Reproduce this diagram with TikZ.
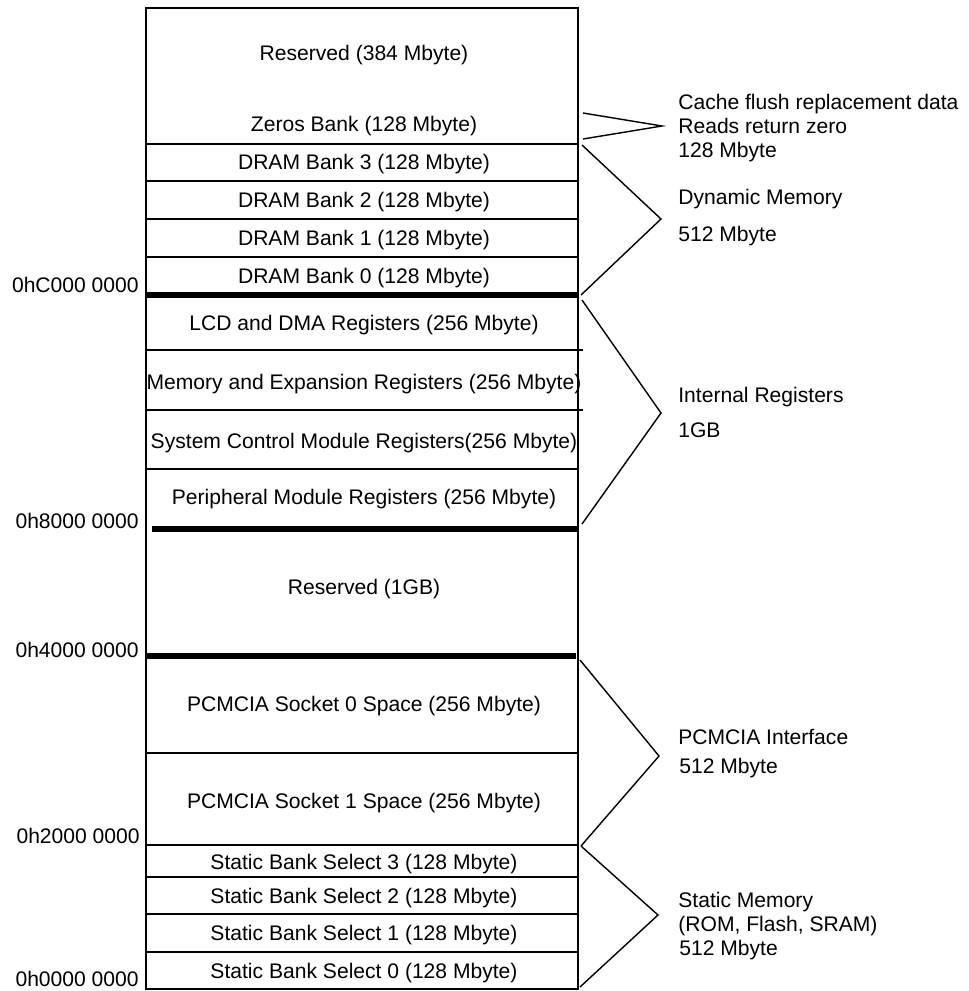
\documentclass[tikz,border=0pt]{standalone}
\usepackage{fontspec}
\setmainfont{Liberation Sans}
\usetikzlibrary{calc}
\tikzset{
	lbl/.style={font=\fontsize{12}{14}\selectfont,inner sep=0,text height=8.6pt,text depth=0pt},
	sepline/.style={line width=0.8pt},
	bar/.style={line width=3.4pt},
	brace/.style={line width=0.8pt,line join=miter},
}

\begin{document}
\begin{tikzpicture}[x=0.02cm,y=-0.02cm]
	
	\def\xl{146}      % left edge of map
	\def\xr{578}      % right edge of map
	\def\xm{364}      % centre of the labels
	\def\xt{678}      % left edge of the notes
	\def\xa{139}      % right edge of the addresses
	\useasboundingbox (0,0) rectangle (968,991);
	\coordinate (TL) at (\xl,8);
	\coordinate (BR) at (\xr,989);
	
	% MAP
	\draw[sepline] (TL) rectangle (BR);
	\foreach \y in {144,181,219,257,469,753,845,877,914,952}
		\draw[sepline] (\xl,\y) -- (\xr,\y);
	\draw[sepline] (\xl,350) -- (\xr+5,350);
	\draw[sepline] (\xl,410) -- (\xr+5,410);
	\draw[bar] (\xl,295) -- (\xr,295);
	\draw[bar] (\xl+6,529) -- (\xr,529);
	\draw[bar] (\xl,656) -- (\xr-2,656);
	
	% REGIONS
	\node[lbl] (res384) at (\xm,53) {Reserved (384 Mbyte)};
	\node[lbl] (zeros) at (\xm,124) {Zeros Bank (128 Mbyte)};
	\node[lbl] (dram3) at (\xm,162) {DRAM Bank 3 (128 Mbyte)};
	\node[lbl] (dram2) at (\xm,200) {DRAM Bank 2 (128 Mbyte)};
	\node[lbl] (dram1) at (\xm,238) {DRAM Bank 1 (128 Mbyte)};
	\node[lbl] (dram0) at (\xm,276) {DRAM Bank 0 (128 Mbyte)};
	\node[lbl] (lcd) at (\xm,323) {LCD and DMA Registers (256 Mbyte)};
	\node[lbl] (mem) at (\xm,382) {Memory and Expansion Registers (256 Mbyte)};
	\node[lbl] (sys) at (\xm,441) {System Control Module Registers(256 Mbyte)};
	\node[lbl] (per) at (\xm,497) {Peripheral Module Registers (256 Mbyte)};
	\node[lbl] (res1g) at (\xm,587) {Reserved (1GB)};
	\node[lbl] (pcm0) at (\xm,704) {PCMCIA Socket 0 Space (256 Mbyte)};
	\node[lbl] (pcm1) at (\xm,801) {PCMCIA Socket 1 Space (256 Mbyte)};
	\node[lbl] (sbs3) at (\xm,862) {Static Bank Select 3 (128 Mbyte)};
	\node[lbl] (sbs2) at (\xm,896) {Static Bank Select 2 (128 Mbyte)};
	\node[lbl] (sbs1) at (\xm,933) {Static Bank Select 1 (128 Mbyte)};
	\node[lbl] (sbs0) at (\xm,971) {Static Bank Select 0 (128 Mbyte)};
	
	% ADDRESSES
	\node[lbl,anchor=east] (adrC) at (\xa,285) {0hC000 0000};
	\node[lbl,anchor=east] (adr8) at (\xa,521) {0h8000 0000};
	\node[lbl,anchor=east] (adr4) at (\xa,650) {0h4000 0000};
	\node[lbl,anchor=east] (adr2) at (\xa+1,836) {0h2000 0000};
	\node[lbl,anchor=east] (adr0) at (\xa,979) {0h0000 0000};
	
	% BRACKETS
	\coordinate (Z1) at (583,113); \coordinate (Z2) at (662,126); \coordinate (Z3) at (583,139);
	\coordinate (D1) at (582,145); \coordinate (D2) at (661,219); \coordinate (D3) at (581,295);
	\coordinate (I1) at (582,300); \coordinate (I2) at (661,413); \coordinate (I3) at (582,524);
	\coordinate (P1) at (580,660); \coordinate (P2) at (659,756); \coordinate (P3) at (581,846);
	\coordinate (S1) at (581,846); \coordinate (S2) at (658,915); \coordinate (S3) at (580,987);
	\draw[brace] (Z1) -- (Z2) -- (Z3);
	\draw[brace] (D1) -- (D2) -- (D3);
	\draw[brace] (I1) -- (I2) -- (I3);
	\draw[brace] (P1) -- (P2) -- (P3);
	\draw[brace] (S1) -- (S2) -- (S3);
	
	% NOTES
	\node[lbl,anchor=west] (cache) at (\xt,102) {Cache flush replacement data};
	\node[lbl,anchor=west] (reads) at (\xt,126) {Reads return zero};
	\node[lbl,anchor=west] (zsize) at (\xt,150) {128 Mbyte};
	\node[lbl,anchor=west] (dyn) at (\xt,197) {Dynamic Memory};
	\node[lbl,anchor=west] (dsize) at (\xt,234) {512 Mbyte};
	\node[lbl,anchor=west] (intreg) at (\xt,395) {Internal Registers};
	\node[lbl,anchor=west] (isize) at (\xt,430) {1GB};
	\node[lbl,anchor=west] (pcmif) at (\xt,737) {PCMCIA Interface};
	\node[lbl,anchor=west] (psize) at (\xt+1,766) {512 Mbyte};
	\node[lbl,anchor=west] (stat) at (\xt,900) {Static Memory};
	\node[lbl,anchor=west] (rom) at (\xt,924) {(ROM, Flash, SRAM)};
	\node[lbl,anchor=west] (ssize) at (\xt+1,948) {512 Mbyte};
	
\end{tikzpicture}
\end{document}
